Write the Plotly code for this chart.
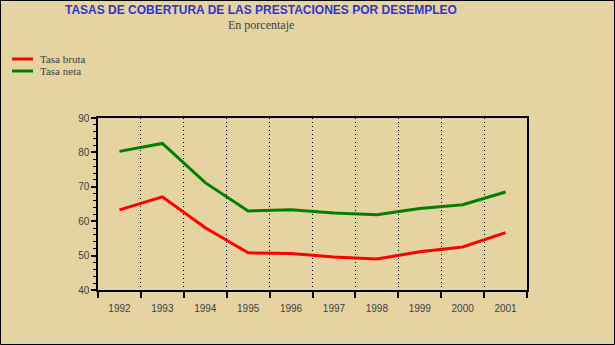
import plotly.graph_objects as go

years = ["1992", "1993", "1994", "1995", "1996", "1997", "1998", "1999", "2000", "2001"]
tasa_bruta = [63.3, 67.1, 58.1, 50.8, 50.6, 49.6, 49.0, 51.1, 52.5, 56.7]
tasa_neta = [80.3, 82.6, 71.2, 63.0, 63.3, 62.4, 61.9, 63.7, 64.8, 68.5]
series_names = ["Tasa bruta", "Tasa neta"]
series_colors = ["#FF0000", "#008000"]

W, H = 615, 345
ML, MR, MT, MB = 98, 88, 118, 55
BG = "#E5D3A2"
TXT = "#404040"

xpos = list(range(len(years)))
bounds = [i - 0.5 for i in range(len(years) + 1)]
pw = W - ML - MR
ph = H - MT - MB

fig = go.Figure()
for vals, name, col in zip([tasa_bruta, tasa_neta], series_names, series_colors):
    fig.add_trace(go.Scatter(x=xpos, y=vals, mode="lines", name=name,
                             line=dict(color=col, width=3), showlegend=False, hoverinfo="skip"))
# invisible helper trace so the label axis is rendered
fig.add_trace(go.Scatter(x=xpos, y=tasa_bruta, mode="markers", marker=dict(opacity=0),
                         xaxis="x2", showlegend=False, hoverinfo="skip"))

fig.update_layout(
    width=W, height=H,
    margin=dict(l=ML, r=MR, t=MT, b=MB, pad=0),
    paper_bgcolor=BG, plot_bgcolor=BG,
    showlegend=False,
    xaxis=dict(range=[-0.5, len(years) - 0.5], tickvals=bounds, ticktext=[""] * len(bounds),
               ticks="outside", ticklen=6, tickwidth=1.5, tickcolor="black",
               showline=True, linecolor="black", linewidth=1.5, mirror=True,
               showgrid=True, gridcolor="black", griddash="1px,3px", gridwidth=1,
               zeroline=False, fixedrange=True),
    xaxis2=dict(range=[-0.5, len(years) - 0.5], overlaying="x", side="bottom",
                tickvals=xpos, ticktext=years, ticks="", showline=False, showgrid=False,
                zeroline=False, ticklabelstandoff=11,
                tickfont=dict(family="Liberation Sans", size=10, color=TXT)),
    yaxis=dict(range=[40, 90], dtick=10, ticks="outside", ticklen=5, tickwidth=1.5,
               tickcolor="black", showline=True, linecolor="black", linewidth=1.5, mirror=True,
               showgrid=False, zeroline=False,
               minor=dict(dtick=2, ticks="outside", ticklen=3, tickcolor="black", tickwidth=1),
               tickfont=dict(family="Liberation Sans", size=10, color=TXT)),
)

fig.add_annotation(text="TASAS DE COBERTURA DE LAS PRESTACIONES POR DESEMPLEO",
                   xref="paper", yref="paper", x=(261 - ML) / pw, y=1 + (MT - 10) / ph,
                   xanchor="center", yanchor="middle", showarrow=False,
                   font=dict(family="Liberation Sans", size=12, color="#3333CC", weight="bold"))
fig.add_annotation(text="En porcentaje",
                   xref="paper", yref="paper", x=(261 - ML) / pw, y=1 + (MT - 25) / ph,
                   xanchor="center", yanchor="middle", showarrow=False,
                   font=dict(family="Liberation Serif", size=12, color=TXT))

# manual legend (compact spacing as in the reference)
for i, (name, col) in enumerate(zip(series_names, series_colors)):
    ypx = 59 + 12 * i
    yp = 1 + (MT - ypx) / ph
    fig.add_shape(type="line", xref="paper", yref="paper",
                  x0=(12 - ML) / pw, x1=(33 - ML) / pw, y0=yp, y1=yp,
                  line=dict(color=col, width=3))
    fig.add_annotation(text=name, xref="paper", yref="paper", x=(38 - ML) / pw, y=yp,
                       xanchor="left", yanchor="middle", showarrow=False,
                       font=dict(family="Liberation Serif", size=11, color=TXT))

fig.add_shape(type="rect", xref="paper", yref="paper",
              x0=-ML / pw + 0.5 / pw, x1=1 + MR / pw - 0.5 / pw,
              y0=-MB / ph + 0.5 / ph, y1=1 + MT / ph - 0.5 / ph,
              line=dict(color="black", width=1), layer="above")

fig.write_html("out.html")
